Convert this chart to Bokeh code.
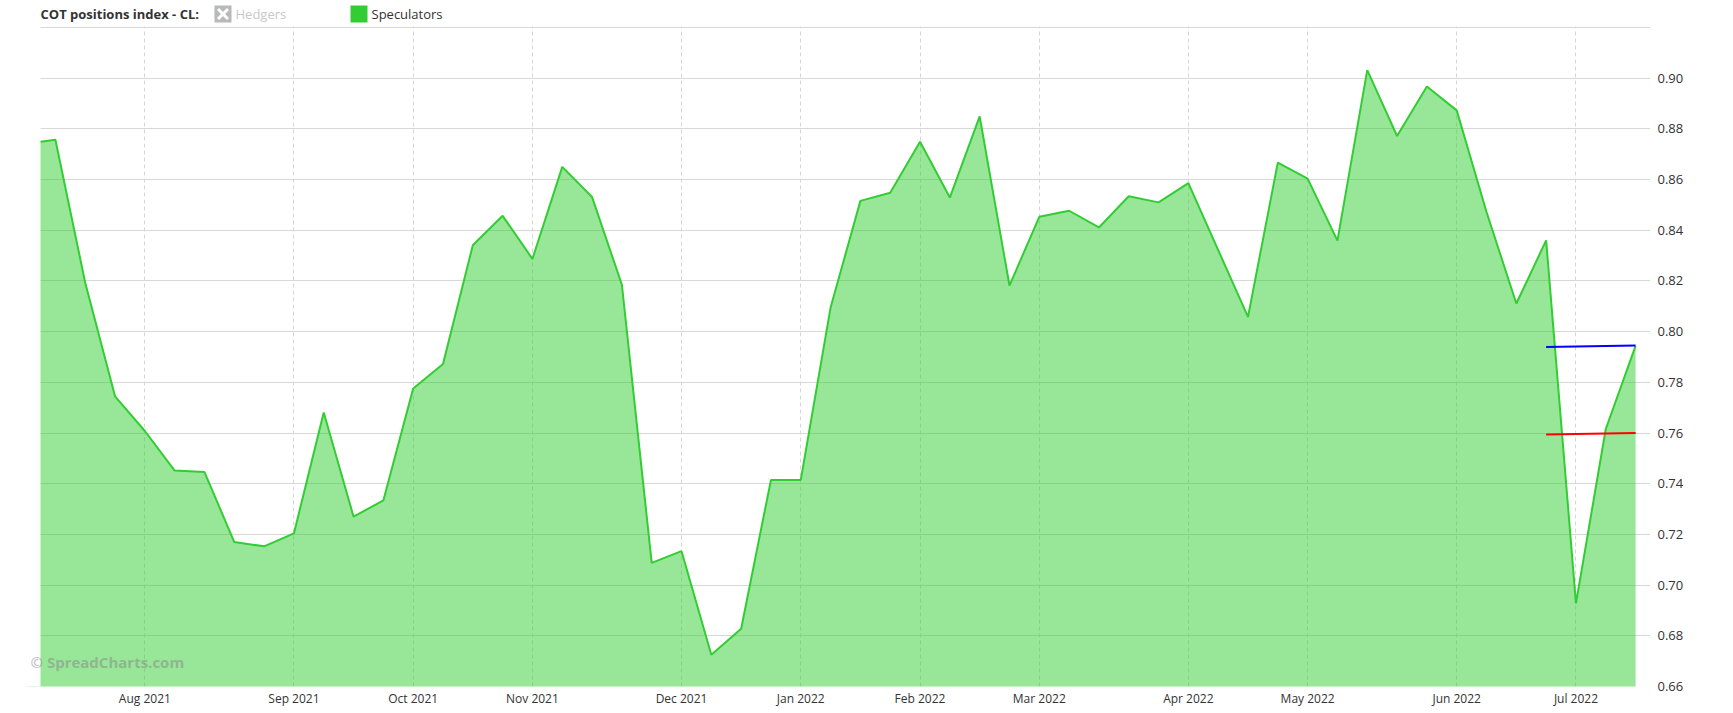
import pandas as pd
from bokeh.plotting import figure
from bokeh.models import (Range1d, FixedTicker, DatetimeTickFormatter, Label,
                          BoxAnnotation, Arrow, NumeralTickFormatter)
from bokeh.embed import file_html
from bokeh.resources import INLINE

# ---------------- data ----------------
dates = [
    "2021-07-06", "2021-07-13", "2021-07-20", "2021-07-27",
    "2021-08-03", "2021-08-10", "2021-08-17", "2021-08-24", "2021-08-31",
    "2021-09-07", "2021-09-14", "2021-09-21", "2021-09-28",
    "2021-10-05", "2021-10-12", "2021-10-19", "2021-10-26",
    "2021-11-02", "2021-11-09", "2021-11-16", "2021-11-23", "2021-11-30",
    "2021-12-07", "2021-12-14", "2021-12-21", "2021-12-28",
    "2022-01-04", "2022-01-11", "2022-01-18", "2022-01-25",
    "2022-02-01", "2022-02-08", "2022-02-15", "2022-02-22",
    "2022-03-01", "2022-03-08", "2022-03-15", "2022-03-22", "2022-03-29",
    "2022-04-05", "2022-04-12", "2022-04-19", "2022-04-26",
    "2022-05-03", "2022-05-10", "2022-05-17", "2022-05-24", "2022-05-31",
    "2022-06-07", "2022-06-14", "2022-06-21", "2022-06-28",
    "2022-07-05", "2022-07-12", "2022-07-19",
]
speculators = [
    0.8741, 0.8757, 0.8193, 0.7745,
    0.7608, 0.7452, 0.7446, 0.7170, 0.7153,
    0.7204, 0.7681, 0.7270, 0.7334,
    0.7776, 0.7872, 0.8341, 0.8457,
    0.8287, 0.8650, 0.8531, 0.8185, 0.7088,
    0.7134, 0.6725, 0.6828, 0.7415,
    0.7415, 0.8095, 0.8516, 0.8548,
    0.8749, 0.8529, 0.8849, 0.8182,
    0.8453, 0.8477, 0.8411, 0.8534, 0.8510,
    0.8586, 0.8322, 0.8058, 0.8667,
    0.8604, 0.8359, 0.9032, 0.8772, 0.8967,
    0.8873, 0.8472, 0.8111, 0.8360,
    0.6928, 0.7616, 0.7944,
]
tick_dates = ["2021-08-03", "2021-09-07", "2021-10-05", "2021-11-02",
              "2021-12-07", "2022-01-04", "2022-02-01", "2022-03-01",
              "2022-04-05", "2022-05-03", "2022-06-07", "2022-07-05"]
tick_labels = ["Aug 2021", "Sep 2021", "Oct 2021", "Nov 2021", "Dec 2021",
               "Jan 2022", "Feb 2022", "Mar 2022", "Apr 2022", "May 2022",
               "Jun 2022", "Jul 2022"]
y_ticks = [0.66, 0.68, 0.70, 0.72, 0.74, 0.76, 0.78, 0.80, 0.82, 0.84, 0.86, 0.88, 0.90]
y_grid = y_ticks + [0.92]
level_dates = ["2022-06-28", "2022-07-19"]
blue_level = [0.7939, 0.7945]
red_level = [0.7594, 0.7600]
x_visible_start = "2021-07-09 12:00"
x_end = "2022-07-22 12:00"
y_min, y_max = 0.66, 0.92

# ---------------- layout geometry (pixels) ----------------
PLOT_W, PLOT_H = 1610, 659      # visible plotting area
PAD_L, PAD_T = 16, 27           # extra frame room for watermark / header
FW, FH = PLOT_W + PAD_L, PLOT_H + PAD_T
BORDER_L = 40 - PAD_L

t0 = pd.Timestamp(x_visible_start)
t1 = pd.Timestamp(x_end)
x_start = t0 - (t1 - t0) * (PAD_L / PLOT_W)
y_top = y_max + (y_max - y_min) * (PAD_T / PLOT_H)

xs = pd.to_datetime(dates)
lx = pd.to_datetime(level_dates)
tick_ms = [float(pd.Timestamp(d).value // 10**6) for d in tick_dates]

FONT = "Open Sans"
GREEN = "#32cd32"

p = figure(x_axis_type="datetime", y_axis_location="right",
           frame_width=FW, frame_height=FH,
           x_range=Range1d(x_start, t1),
           y_range=Range1d(y_min, y_top),
           output_backend="svg", toolbar_location=None,
           min_border_left=BORDER_L, min_border_top=0, min_border_right=60,
           min_border_bottom=19)
p.outline_line_color = None
p.background_fill_color = "white"
p.border_fill_color = "white"

p.varea(x=xs, y1=0.5, y2=speculators, fill_color=GREEN, fill_alpha=0.5)
p.line(xs, speculators, line_color=GREEN, line_width=2)
p.line(lx, blue_level, line_color="#0000ff", line_width=2)
p.line(lx, red_level, line_color="#ff0000", line_width=2)

# grids
p.xgrid.ticker = FixedTicker(ticks=tick_ms)
p.xgrid.grid_line_color = "#d6d6d6"
p.xgrid.grid_line_dash = "4 3"
p.xgrid.grid_line_width = 1
p.ygrid.ticker = FixedTicker(ticks=y_grid)
p.ygrid.grid_line_color = "#d8d8d8"
p.ygrid.grid_line_width = 1

# axes
for ax in (p.xaxis[0], p.yaxis[0]):
    ax.axis_line_color = None
    ax.major_tick_line_color = None
    ax.minor_tick_line_color = None
    ax.major_tick_out = 0
    ax.major_tick_in = 0
    ax.minor_tick_out = 0
    ax.minor_tick_in = 0
    ax.major_label_text_font = FONT
    ax.major_label_text_color = "#333333"

p.xaxis.ticker = FixedTicker(ticks=tick_ms)
p.xaxis.formatter = DatetimeTickFormatter(days="%b %Y", months="%b %Y",
                                          years="%b %Y", hours="%b %Y")
p.xaxis.major_label_overrides = {t: l for t, l in zip(tick_ms, tick_labels)}
p.xaxis.major_label_text_font_size = "12px"
p.xaxis.major_label_standoff = 3

p.yaxis.ticker = FixedTicker(ticks=y_ticks)
p.yaxis.formatter = NumeralTickFormatter(format="0.00")
p.yaxis.major_label_text_font_size = "13px"
p.yaxis.major_label_standoff = 7


def screen_box(left, right, bottom, top, color):
    return BoxAnnotation(left=left, right=right, bottom=bottom, top=top,
                         left_units="screen", right_units="screen",
                         bottom_units="screen", top_units="screen",
                         fill_color=color, fill_alpha=1.0, line_color=None)


# white margins inside the frame (left strip and header strip)
p.add_layout(screen_box(-5, PAD_L, -5, FH + 5, "white"))
p.add_layout(screen_box(-5, FW + 5, PLOT_H + 1, FH + 5, "white"))

# ---------------- header (title + legend) ----------------
X0 = PAD_L       # x of the visible plot's left edge in frame pixels
HY = FH - 13.5   # vertical centre of the header row
p.add_layout(Label(x=X0, y=HY, x_units="screen", y_units="screen",
                   text="COT positions index - CL:", text_font=FONT,
                   text_font_size="13px", text_font_style="bold",
                   text_color="#333333", text_baseline="middle"))

# Hedgers (hidden series symbol)
p.add_layout(screen_box(X0 + 174, X0 + 191, FH - 22, FH - 5, "#b6baba"))
p.add_layout(Arrow(end=None, x_start=X0 + 177.5, y_start=FH - 18.5,
                   x_end=X0 + 187.5, y_end=FH - 8.5,
                   start_units="screen", end_units="screen",
                   line_color="white", line_width=3))
p.add_layout(Arrow(end=None, x_start=X0 + 177.5, y_start=FH - 8.5,
                   x_end=X0 + 187.5, y_end=FH - 18.5,
                   start_units="screen", end_units="screen",
                   line_color="white", line_width=3))
p.add_layout(Label(x=X0 + 195, y=HY, x_units="screen", y_units="screen",
                   text="Hedgers", text_font=FONT, text_font_size="13px",
                   text_color="#c8c8c8", text_baseline="middle"))

# Speculators
p.add_layout(screen_box(X0 + 310, X0 + 327, FH - 22, FH - 5, GREEN))
p.add_layout(Label(x=X0 + 331, y=HY, x_units="screen", y_units="screen",
                   text="Speculators", text_font=FONT, text_font_size="13px",
                   text_color="#333333", text_baseline="middle"))

# watermark
p.add_layout(Label(x=X0 - 10, y=25, x_units="screen", y_units="screen",
                   text="© SpreadCharts.com", text_font=FONT,
                   text_font_size="15px", text_font_style="bold",
                   text_color="#8a8a8a", text_alpha=0.55,
                   text_baseline="middle"))

open("out.html", "w").write(file_html(p, INLINE))
